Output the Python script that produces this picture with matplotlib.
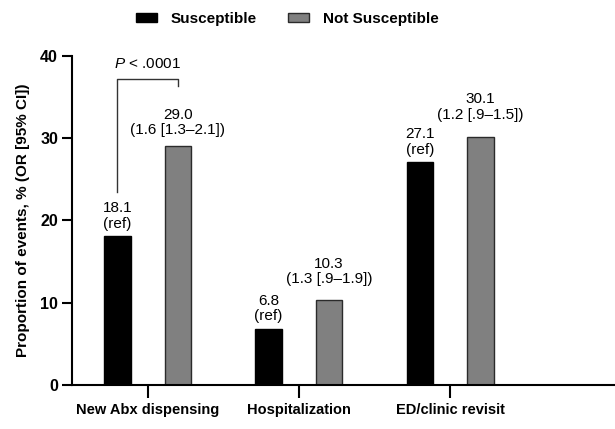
import numpy as np
import matplotlib
matplotlib.use('Agg')
from matplotlib import pyplot as plt

plt.rcParams['font.family'] = 'Liberation Sans'
plt.rcParams['mathtext.fontset'] = 'custom'
plt.rcParams['mathtext.rm'] = 'Liberation Sans'
plt.rcParams['mathtext.it'] = 'Liberation Sans:italic'

categories = ['New Abx dispensing', 'Hospitalization', 'ED/clinic revisit']
susceptible = [18.1, 6.8, 27.1]
not_susceptible = [29.0, 10.3, 30.1]
sus_labels = ['18.1\n(ref)', '6.8\n(ref)', '27.1\n(ref)']
not_labels = ['29.0\n(1.6 [1.3\u20132.1])', '10.3\n(1.3 [.9\u20131.9])', '30.1\n(1.2 [.9\u20131.5])']
not_label_pad = [6.5, 10, 11]

fig = plt.figure(figsize=(6.15, 4.29), dpi=100)
ax = fig.add_axes([0.117, 0.1026, 0.883, 0.767])

x = np.arange(len(categories))
off = 0.2
w = 0.175
b1 = ax.bar(x - off, susceptible, w, color='black', edgecolor='black', linewidth=1, label='Susceptible')
b2 = ax.bar(x + off, not_susceptible, w, color='#808080', edgecolor='#2b2b2b', linewidth=1, label='Not Susceptible')

for i in range(len(x)):
    ax.annotate(sus_labels[i], (x[i] - off, susceptible[i]), xytext=(0, 4), textcoords='offset points',
                ha='center', va='bottom', fontsize=11, linespacing=1.15)
    ax.annotate(not_labels[i], (x[i] + off, not_susceptible[i]), xytext=(0, not_label_pad[i]), textcoords='offset points',
                ha='center', va='bottom', fontsize=11, linespacing=1.15)

# significance bracket
ax.plot([x[0] - off, x[0] - off, x[0] + off, x[0] + off], [23.4, 37.2, 37.2, 36.4], color='#333333', lw=1)
ax.text(x[0], 38.2, '$P$ < .0001', ha='center', va='bottom', fontsize=11)

ax.set_xlim(-0.5, 3.09)
ax.set_ylim(0, 40)
ax.set_yticks([0, 10, 20, 30, 40])
ax.set_xticks(x)
ax.set_xticklabels(categories, fontsize=10.5, fontweight='bold')
for t in ax.get_yticklabels():
    t.set_fontweight('bold')
    t.set_fontsize(11.5)
ax.tick_params(axis='y', length=7, width=1.5, pad=3)
ax.tick_params(axis='x', length=9, width=1.5, pad=4)
ax.spines['top'].set_visible(False)
ax.spines['right'].set_visible(False)
ax.spines['left'].set_linewidth(1.5)
ax.spines['bottom'].set_linewidth(1.5)
ax.set_ylabel('Proportion of events, % (OR [95% CI])', fontsize=11, fontweight='bold', labelpad=7)

fig.legend(handles=[b1, b2], loc='center', bbox_to_anchor=(0.467, 0.956), ncol=2, frameon=False,
           prop={'weight': 'bold', 'size': 11}, handlelength=1.4, handleheight=0.6, columnspacing=2.0,
           handletextpad=0.9)

fig.savefig('out.png', dpi=100)
